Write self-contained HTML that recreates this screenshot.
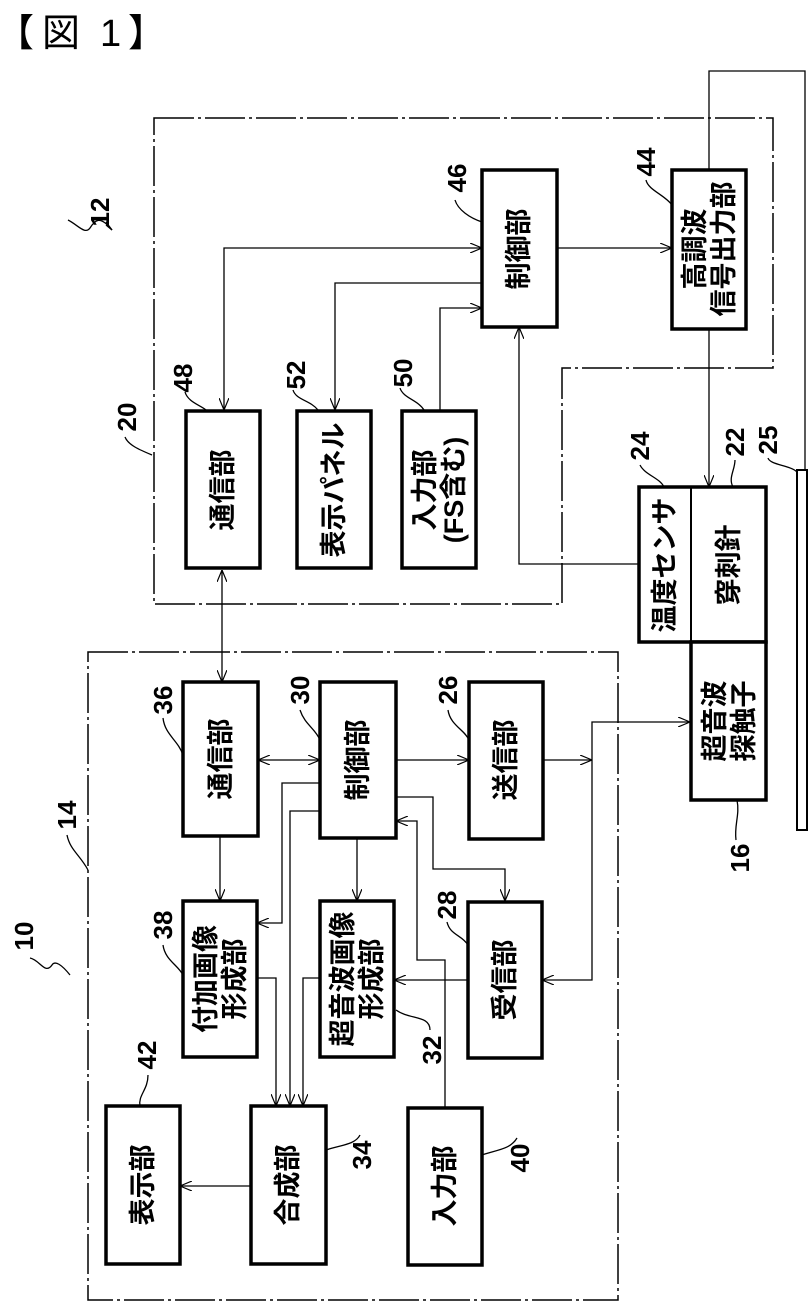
<!DOCTYPE html>
<html><head><meta charset="utf-8"><style>
html,body{margin:0;padding:0;background:#fff;}
svg{display:block;}
text{font-family:"Liberation Sans","Noto Sans CJK JP",sans-serif;fill:#000;}
.b{fill:#fff;stroke:#000;stroke-width:3.5;}
.l{fill:none;stroke:#000;stroke-width:1.3;}
.d{fill:none;stroke:#000;stroke-width:1.5;stroke-dasharray:40 4 3 4;}
.t{font-size:27px;font-weight:bold;}
.n{font-size:26px;font-weight:bold;}
</style></head><body>
<svg width="811" height="1315" viewBox="0 0 811 1315" xmlns="http://www.w3.org/2000/svg">
<defs>
<marker id="a" viewBox="0 0 12 10" refX="12" refY="5" markerWidth="12" markerHeight="10" markerUnits="userSpaceOnUse" orient="auto-start-reverse">
<path d="M0,0 L12,5 L0,10" fill="none" stroke="#000" stroke-width="1.2"/>
</marker>
</defs>

<text x="-4" y="46" style="font-size:38px;">【</text>
<text x="42" y="46" style="font-size:38px;">図</text>
<text x="100" y="46" style="font-size:38px;">1</text>
<text x="128" y="46" style="font-size:38px;">】</text>

<!-- dashed enclosures -->
<path class="d" d="M154,118 L773,118 L773,368 L562,368 L562,604 L154,604 Z"/>
<rect class="d" x="88" y="652" width="530" height="648"/>

<!-- wire to 25 -->
<path class="l" d="M709,170 L709,71 L805,71 L805,470"/>
<rect x="797" y="470" width="10" height="360" fill="#fff" stroke="#000" stroke-width="2"/>

<!-- connectors top -->
<path class="l" d="M224,410 L224,248 L482,248" marker-start="url(#a)" marker-end="url(#a)"/>
<path class="l" d="M482,283 L335,283 L335,410" marker-end="url(#a)"/>
<path class="l" d="M440,410 L440,308 L482,308" marker-end="url(#a)"/>
<path class="l" d="M557,248 L672,248" marker-end="url(#a)"/>
<path class="l" d="M709,329 L709,487" marker-end="url(#a)"/>
<path class="l" d="M639,564 L519,564 L519,327" marker-end="url(#a)"/>
<path class="l" d="M222,570 L222,682" marker-start="url(#a)" marker-end="url(#a)"/>

<!-- connectors lower -->
<path class="l" d="M258,760 L320,760" marker-start="url(#a)" marker-end="url(#a)"/>
<path class="l" d="M396,760 L469,760" marker-end="url(#a)"/>
<path class="l" d="M543,760 L592,760" marker-end="url(#a)"/>
<path class="l" d="M592,760 L592,722 L690,722" marker-end="url(#a)"/>
<path class="l" d="M592,760 L592,980 L542,980" marker-end="url(#a)"/>
<path class="l" d="M220,836 L220,901" marker-end="url(#a)"/>
<path class="l" d="M357,838 L357,901" marker-end="url(#a)"/>
<path class="l" d="M320,783 L282,783 L282,923 L257,923" marker-end="url(#a)"/>
<path class="l" d="M320,811 L290,811 L290,1106" marker-end="url(#a)"/>
<path class="l" d="M257,978 L276,978 L276,1106" marker-end="url(#a)"/>
<path class="l" d="M320,978 L303,978 L303,1106" marker-end="url(#a)"/>
<path class="l" d="M396,797 L433,797 L433,869 L505,869 L505,901" marker-end="url(#a)"/>
<path class="l" d="M445,1108 L445,960 L417,960 L417,821 L396,821" marker-end="url(#a)"/>
<path class="l" d="M468,980 L394,980" marker-end="url(#a)"/>
<path class="l" d="M251,1186 L180,1186" marker-end="url(#a)"/>

<!-- boxes -->
<rect class="b" x="482" y="170" width="75" height="157"/>
<rect class="b" x="672" y="170" width="74" height="159"/>
<rect class="b" x="186" y="411" width="74" height="157"/>
<rect class="b" x="297" y="411" width="74" height="157"/>
<rect class="b" x="402" y="411" width="74" height="157"/>
<rect class="b" x="639" y="487" width="127" height="155"/>
<line x1="691" y1="487" x2="691" y2="642" stroke="#000" stroke-width="2"/>
<rect class="b" x="691" y="642" width="75" height="158"/>
<rect class="b" x="183" y="682" width="75" height="154"/>
<rect class="b" x="320" y="682" width="76" height="156"/>
<rect class="b" x="469" y="682" width="74" height="157"/>
<rect class="b" x="183" y="901" width="74" height="156"/>
<rect class="b" x="320" y="901" width="74" height="156"/>
<rect class="b" x="468" y="902" width="74" height="156"/>
<rect class="b" x="106" y="1106" width="74" height="158"/>
<rect class="b" x="251" y="1106" width="75" height="158"/>
<rect class="b" x="408" y="1108" width="74" height="157"/>

<!-- box texts (rotated -90) -->
<g class="t" text-anchor="middle" dominant-baseline="central">
<text transform="translate(519,249) rotate(-90)">制御部</text>
<text transform="translate(709,249) rotate(-90)"><tspan x="0" y="-14">高調波</tspan><tspan x="0" y="15">信号出力部</tspan></text>
<text transform="translate(223,490) rotate(-90)">通信部</text>
<text transform="translate(334,490) rotate(-90)">表示パネル</text>
<text transform="translate(439,490) rotate(-90)"><tspan x="0" y="-14">入力部</tspan><tspan x="0" y="15">(FS含む)</tspan></text>
<text transform="translate(665,565) rotate(-90)">温度センサ</text>
<text transform="translate(729,565) rotate(-90)">穿刺針</text>
<text transform="translate(729,721) rotate(-90)"><tspan x="0" y="-14">超音波</tspan><tspan x="0" y="15">探触子</tspan></text>
<text transform="translate(221,759) rotate(-90)">通信部</text>
<text transform="translate(358,760) rotate(-90)">制御部</text>
<text transform="translate(506,760) rotate(-90)">送信部</text>
<text transform="translate(220,979) rotate(-90)"><tspan x="0" y="-14">付加画像</tspan><tspan x="0" y="15">形成部</tspan></text>
<text transform="translate(357,979) rotate(-90)"><tspan x="0" y="-14">超音波画像</tspan><tspan x="0" y="15">形成部</tspan></text>
<text transform="translate(505,980) rotate(-90)">受信部</text>
<text transform="translate(143,1185) rotate(-90)">表示部</text>
<text transform="translate(288,1185) rotate(-90)">合成部</text>
<text transform="translate(445,1186) rotate(-90)">入力部</text>
</g>

<!-- reference numbers -->
<g class="n" text-anchor="middle" dominant-baseline="central">
<text transform="translate(100,212) rotate(-90)">12</text>
<text transform="translate(127,417) rotate(-90)">20</text>
<text transform="translate(183,378) rotate(-90)">48</text>
<text transform="translate(296,375) rotate(-90)">52</text>
<text transform="translate(403,373) rotate(-90)">50</text>
<text transform="translate(457,178) rotate(-90)">46</text>
<text transform="translate(646,162) rotate(-90)">44</text>
<text transform="translate(640,446) rotate(-90)">24</text>
<text transform="translate(735,442) rotate(-90)">22</text>
<text transform="translate(768,440) rotate(-90)">25</text>
<text transform="translate(740,858) rotate(-90)">16</text>
<text transform="translate(67,815) rotate(-90)">14</text>
<text transform="translate(24,936) rotate(-90)">10</text>
<text transform="translate(163,700) rotate(-90)">36</text>
<text transform="translate(300,690) rotate(-90)">30</text>
<text transform="translate(448,690) rotate(-90)">26</text>
<text transform="translate(163,925) rotate(-90)">38</text>
<text transform="translate(447,905) rotate(-90)">28</text>
<text transform="translate(432,1050) rotate(-90)">32</text>
<text transform="translate(147,1055) rotate(-90)">42</text>
<text transform="translate(362,1155) rotate(-90)">34</text>
<text transform="translate(520,1158) rotate(-90)">40</text>
</g>

<!-- leader lines -->
<g class="l">
<path d="M68,220 C78,225 85,235 90,228 C95,220 100,215 112,230"/>
<path d="M106,225 L112,230 L106,222"/>
<path d="M125,437 C128,445 140,450 152,455"/>
<path d="M185,392 C188,402 200,405 206,410"/>
<path d="M293,390 C296,400 310,400 318,410"/>
<path d="M400,388 C403,398 418,400 424,410"/>
<path d="M455,200 C458,210 470,218 482,222"/>
<path d="M646,180 C648,190 665,195 672,205"/>
<path d="M640,465 C645,475 660,478 664,487"/>
<path d="M735,460 C735,470 728,478 733,487"/>
<path d="M768,458 C770,465 790,465 797,472"/>
<path d="M736,840 C734,825 740,815 737,800"/>
<path d="M67,835 C70,850 80,855 88,870"/>
<path d="M30,958 C40,960 45,975 52,965 C55,960 62,965 70,975"/>
<path d="M163,718 C165,735 178,740 183,755"/>
<path d="M300,710 C305,725 315,728 320,740"/>
<path d="M448,710 C450,725 465,730 469,740"/>
<path d="M163,945 C165,960 178,965 183,975"/>
<path d="M447,922 C450,935 462,935 468,945"/>
<path d="M430,1030 C430,1015 410,1020 396,1010"/>
<path d="M148,1075 C148,1090 138,1095 140,1106"/>
<path d="M360,1135 C355,1145 340,1145 326,1150"/>
<path d="M517,1138 C510,1150 495,1150 482,1155"/>
</g>
</svg>
</body></html>
